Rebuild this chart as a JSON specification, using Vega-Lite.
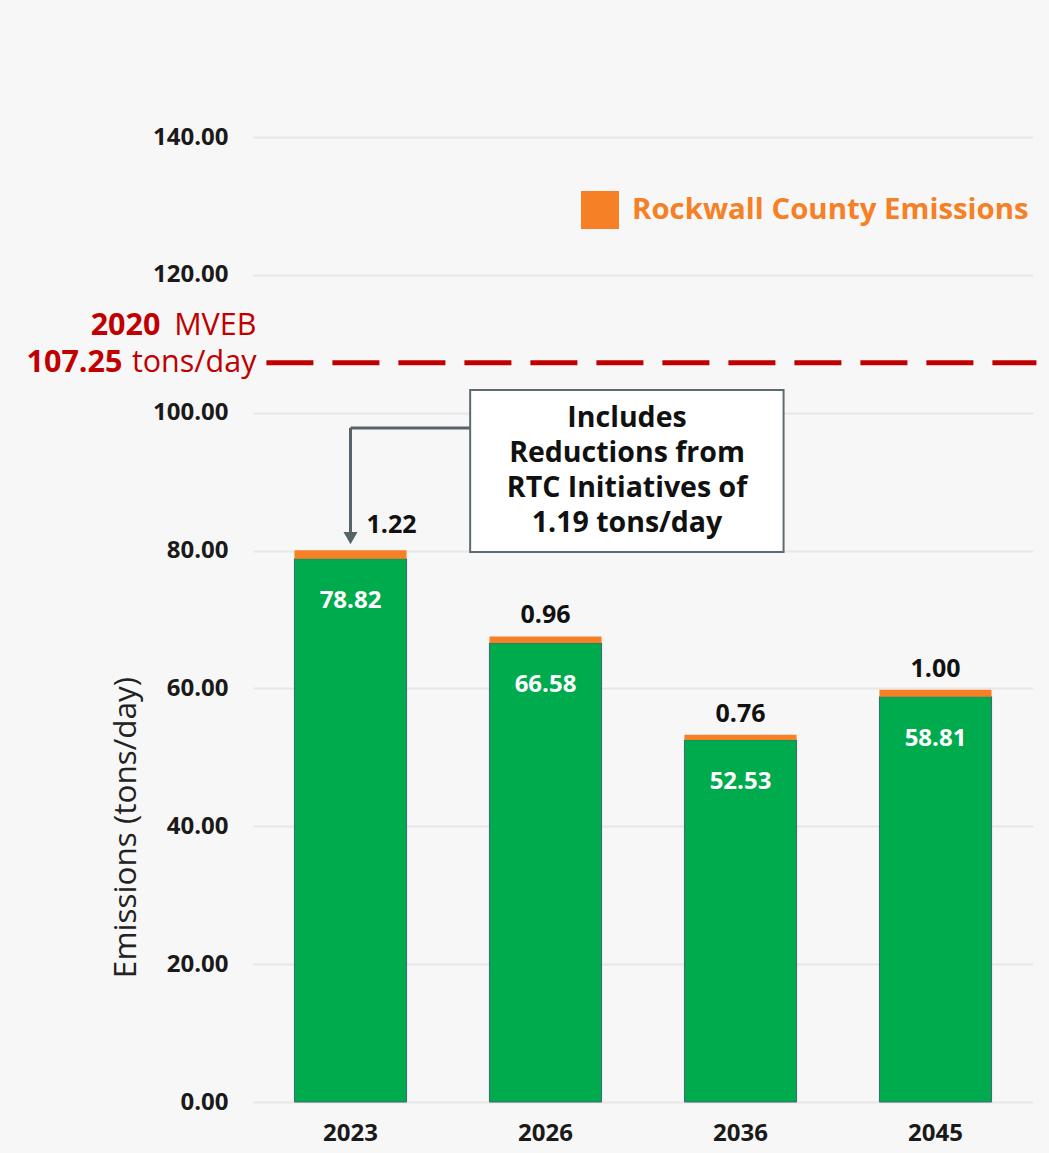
{
  "$schema": "https://vega.github.io/schema/vega-lite/v6.json",
  "autosize": "none",
  "width": 780,
  "height": 965,
  "padding": {"left": 253, "top": 137, "right": 16, "bottom": 51},
  "background": "#f7f7f7",
  "config": {
    "view": {"stroke": null},
    "font": "Open Sans",
    "axis": {"labelFont": "Open Sans", "titleFont": "Open Sans"}
  },
  "data": {
    "values": [
      {"year": "2023", "segment": "Base Emissions", "value": 78.82},
      {"year": "2023", "segment": "Rockwall County Emissions", "value": 1.22},
      {"year": "2026", "segment": "Base Emissions", "value": 66.58},
      {"year": "2026", "segment": "Rockwall County Emissions", "value": 0.96},
      {"year": "2036", "segment": "Base Emissions", "value": 52.53},
      {"year": "2036", "segment": "Rockwall County Emissions", "value": 0.76},
      {"year": "2045", "segment": "Base Emissions", "value": 58.81},
      {"year": "2045", "segment": "Rockwall County Emissions", "value": 1.0}
    ]
  },
  "layer": [
    {
      "mark": {"type": "bar", "strokeWidth": 1},
      "encoding": {
        "x": {
          "field": "year", "type": "nominal", "title": null,
          "scale": {"paddingInner": 0.425, "paddingOuter": 0.2125},
          "axis": {"domain": false, "ticks": false, "labelAngle": 0, "labelFontSize": 24, "labelFontWeight": "bold", "labelColor": "#1a1a1a", "labelPadding": 19}
        },
        "y": {
          "field": "value", "type": "quantitative", "stack": "zero",
          "title": "Emissions (tons/day)",
          "scale": {"domain": [0, 140]},
          "axis": {
            "values": [0, 20, 40, 60, 80, 100, 120, 140], "format": ".2f",
            "domain": false, "ticks": false, "gridColor": "#ebe6e6", "gridWidth": 2,
            "labelFontSize": 24, "labelFontWeight": "bold", "labelColor": "#1a1a1a", "labelPadding": 25,
            "titleFontSize": 31.5, "titleFontWeight": "normal", "titleColor": "#222222",
            "titleX": -127, "titleY": 690, "titleAlign": "center", "titleBaseline": "middle", "titleAngle": -90
          }
        },
        "color": {
          "field": "segment", "type": "nominal",
          "scale": {"domain": ["Base Emissions", "Rockwall County Emissions"], "range": ["#00ab4e", "#f58025"]},
          "legend": {
            "values": ["Rockwall County Emissions"], "title": null, "orient": "none",
            "legendX": 328, "legendY": 54, "padding": 0,
            "symbolType": "square", "symbolSize": 1444, "symbolStrokeWidth": 0,
            "labelFont": "Open Sans", "labelFontSize": 29.4, "labelFontWeight": "bold", "labelColor": "#f58025", "labelOffset": 13, "labelLimit": 0
          }
        },
        "order": {"field": "segment", "sort": "ascending"},
        "stroke": {"condition": {"test": "datum.segment === 'Base Emissions'", "value": "#3b6672"}, "value": null}
      }
    },
    {
      "transform": [{"filter": "datum.segment === 'Base Emissions'"}],
      "mark": {"type": "text", "dy": 42, "baseline": "middle", "color": "white", "fontSize": 24, "fontWeight": "bold", "font": "Open Sans"},
      "encoding": {
        "x": {"field": "year", "type": "nominal"},
        "y": {"field": "value", "type": "quantitative", "title": "Emissions (tons/day)"},
        "text": {"field": "value", "type": "quantitative", "format": ".2f"}
      }
    },
    {
      "transform": [
        {"joinaggregate": [{"op": "sum", "field": "value", "as": "total"}], "groupby": ["year"]},
        {"filter": "datum.segment === 'Rockwall County Emissions' && datum.year !== '2023'"}
      ],
      "mark": {"type": "text", "dy": -21, "baseline": "middle", "color": "#111111", "fontSize": 25, "fontWeight": "bold", "font": "Open Sans"},
      "encoding": {
        "x": {"field": "year", "type": "nominal"},
        "y": {"field": "total", "type": "quantitative", "title": "Emissions (tons/day)"},
        "text": {"field": "value", "type": "quantitative", "format": ".2f"}
      }
    },
    {
      "transform": [
        {"joinaggregate": [{"op": "sum", "field": "value", "as": "total"}], "groupby": ["year"]},
        {"filter": "datum.segment === 'Rockwall County Emissions' && datum.year === '2023'"}
      ],
      "mark": {"type": "text", "dx": 41, "dy": -25, "baseline": "middle", "color": "#111111", "fontSize": 25, "fontWeight": "bold", "font": "Open Sans"},
      "encoding": {
        "x": {"field": "year", "type": "nominal"},
        "y": {"field": "total", "type": "quantitative", "title": "Emissions (tons/day)"},
        "text": {"field": "value", "type": "quantitative", "format": ".2f"}
      }
    },
    {
      "data": {"values": [{}]},
      "mark": {"type": "rule", "color": "#c00000", "strokeWidth": 5, "strokeDash": [47, 19]},
      "encoding": {
        "x": {"datum": "2023", "type": "nominal", "bandPosition": -0.25},
        "x2": {"datum": "2045", "bandPosition": 1.4},
        "y": {"datum": 107.25, "type": "quantitative"}
      }
    },
    {
      "data": {"values": [{}]},
      "mark": {"type": "text", "align": "right", "baseline": "middle", "color": "#c00000", "fontSize": 30.5, "font": "Open Sans", "text": "tons/day"},
      "encoding": {
        "x": {"datum": "2023", "type": "nominal", "bandPosition": -0.339},
        "y": {"datum": 107.25, "type": "quantitative"}
      }
    },
    {
      "data": {"values": [{}]},
      "mark": {"type": "text", "align": "right", "baseline": "middle", "color": "#c00000", "fontSize": 30.5, "fontWeight": "bold", "font": "Open Sans", "text": "107.25", "dx": -134},
      "encoding": {
        "x": {"datum": "2023", "type": "nominal", "bandPosition": -0.339},
        "y": {"datum": 107.25, "type": "quantitative"}
      }
    },
    {
      "data": {"values": [{}]},
      "mark": {"type": "text", "align": "right", "baseline": "middle", "color": "#c00000", "fontSize": 30.5, "font": "Open Sans", "text": "MVEB", "dy": -37},
      "encoding": {
        "x": {"datum": "2023", "type": "nominal", "bandPosition": -0.339},
        "y": {"datum": 107.25, "type": "quantitative"}
      }
    },
    {
      "data": {"values": [{}]},
      "mark": {"type": "text", "align": "right", "baseline": "middle", "color": "#c00000", "fontSize": 30.5, "fontWeight": "bold", "font": "Open Sans", "text": "2020", "dy": -37, "dx": -96},
      "encoding": {
        "x": {"datum": "2023", "type": "nominal", "bandPosition": -0.339},
        "y": {"datum": 107.25, "type": "quantitative"}
      }
    },
    {
      "data": {"values": [{}]},
      "mark": {"type": "rule", "color": "#56646a", "strokeWidth": 3},
      "encoding": {
        "x": {"datum": "2023", "type": "nominal", "bandPosition": 0.5},
        "x2": {"datum": "2026", "bandPosition": -0.172},
        "y": {"datum": 97.8, "type": "quantitative"}
      }
    },
    {
      "data": {"values": [{}]},
      "mark": {"type": "rule", "color": "#56646a", "strokeWidth": 3},
      "encoding": {
        "x": {"datum": "2023", "type": "nominal", "bandPosition": 0.5},
        "y": {"datum": 97.8, "type": "quantitative"},
        "y2": {"datum": 82.7}
      }
    },
    {
      "data": {"values": [{}]},
      "mark": {"type": "point", "shape": "triangle-down", "filled": true, "color": "#56646a", "size": 196, "opacity": 1},
      "encoding": {
        "x": {"datum": "2023", "type": "nominal", "bandPosition": 0.5},
        "y": {"datum": 81.8, "type": "quantitative"}
      }
    },
    {
      "data": {"values": [{}]},
      "mark": {"type": "rect", "fill": "white", "stroke": "#5b6b70", "strokeWidth": 2},
      "encoding": {
        "x": {"datum": "2026", "type": "nominal", "bandPosition": -0.172},
        "x2": {"datum": "2036", "bandPosition": 0.884},
        "y": {"datum": 103.3, "type": "quantitative"},
        "y2": {"datum": 79.8}
      }
    },
    {
      "data": {"values": [{}]},
      "mark": {"type": "text", "align": "center", "baseline": "middle", "color": "#111111", "fontSize": 28.5, "fontWeight": "bold", "font": "Open Sans", "lineHeight": 35.2, "text": ["Includes", "Reductions from", "RTC Initiatives of", "1.19 tons/day"]},
      "encoding": {
        "x": {"datum": "2026", "type": "nominal", "bandPosition": 1.227},
        "y": {"datum": 99.3, "type": "quantitative"}
      }
    }
  ]
}
